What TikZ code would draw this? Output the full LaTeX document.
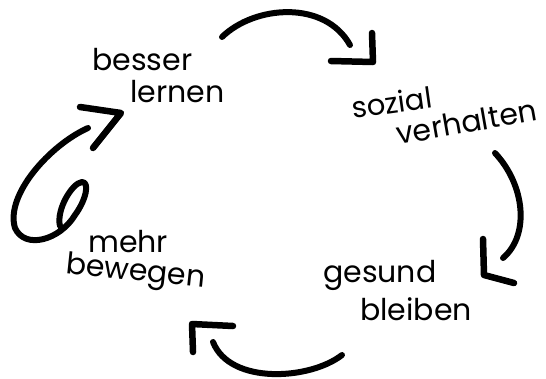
\documentclass[tikz,border=0pt]{standalone}
\usepackage{fontspec}
\setmainfont{Poppins}
\begin{document}
\begin{tikzpicture}[x=1pt,y=-1pt,
  word/.style={anchor=base west,inner sep=0pt,font=\fontsize{30}{36}\selectfont},
  stroke/.style={line width=6pt,line cap=round,line join=round},
  head/.style={line width=6.5pt,line cap=round,line join=round}]
\useasboundingbox[fill=white] (0,0) rectangle (546,378);
% labels
\node[word,rotate=8,font=\fontsize{29}{34}\selectfont] (sozial) at (353,119) {sozial};
\node[word,rotate=10] (verhalten) at (398,145) {verhalten};
\node[word] (besser) at (92,70) {besser};
\node[word] (lernen) at (130,102) {lernen};
\node[word] (mehr) at (88,252) {mehr};
\node[word,rotate=-6] (bewegen) at (65,273) {bewegen};
\node[word] (gesund) at (323,282) {gesund};
\node[word] (bleiben) at (360,320) {bleiben};
% arrow ends
\coordinate (t0) at (222,37);
\coordinate (t1) at (350,45);
\coordinate (r0) at (495,153);
\coordinate (r1) at (503,258);
\coordinate (b0) at (342,355);
\coordinate (b1) at (213,342);
\coordinate (l0) at (60,226);
\coordinate (l1) at (88,128);
% top arrow
\draw[stroke] (t0) .. controls (255,5) and (325,0) .. (t1);
\draw[head] (331,61) -- (373,62) -- (372,33);
% right arrow
\draw[stroke] (r0) .. controls (525,185) and (530,235) .. (r1);
\draw[head] (483,239) -- (484,275) -- (514,283);
% bottom arrow
\draw[stroke] (b0) .. controls (310,380) and (230,385) .. (b1);
\draw[head] (233,326) -- (192,324) -- (193,352);
% left loop arrow
\draw[stroke] (l0) .. controls (56,210) and (72,183) .. (82,182)
  .. controls (90,182) and (86,200) .. (75,215)
  .. controls (60,240) and (25,250) .. (15,228)
  .. controls (5,195) and (50,145) .. (l1);
\draw[head] (80,107) -- (121,113) -- (93,148);
\end{tikzpicture}
\end{document}
